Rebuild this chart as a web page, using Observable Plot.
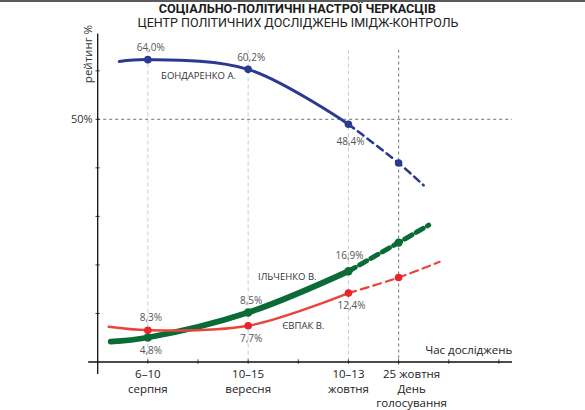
<!DOCTYPE html>
<html>
<head>
<meta charset="utf-8">
<script src="https://cdn.jsdelivr.net/npm/d3@7"></script>
<script src="https://cdn.jsdelivr.net/npm/@observablehq/plot@0.6"></script>
<style>
  html, body { margin: 0; padding: 0; background: #fff; }
  #wrap { position: relative; width: 585px; height: 410px; overflow: hidden; border-top: 2px solid #5a5a5a; box-sizing: border-box; }
  .hd { position: absolute; left: 0; width: 585px; text-align: center; color: #1a1a1a; font-family: Roboto, sans-serif; white-space: nowrap; padding-left: 10px; box-sizing: border-box; }
  .hd span { display: inline-block; transform-origin: center; }
  #title { top: -0.5px; font-weight: 700; font-size: 13px; line-height: 13px; }
  #subtitle { top: 15.2px; font-weight: 400; font-size: 12.5px; line-height: 12.5px; color: #222; }
  #ylabel { position: absolute; left: 87px; top: 52px; width: 0; height: 0; }
  #ylabel span { position: absolute; transform: translate(-50%, -50%) rotate(-90deg); font: 11.5px "Open Sans", sans-serif; color: #333; white-space: nowrap; }
  #chart { position: absolute; left: 0; top: -2px; }
</style>
</head>
<body>
<div id="wrap">
  <div id="title" class="hd"><span>СОЦІАЛЬНО-ПОЛІТИЧНІ НАСТРОЇ ЧЕРКАСЦІВ</span></div>
  <div id="subtitle" class="hd"><span>ЦЕНТР ПОЛІТИЧНИХ ДОСЛІДЖЕНЬ ІМІДЖ-КОНТРОЛЬ</span></div>
  <div id="chart"></div>
  <div id="ylabel"><span>рейтинг %</span></div>
</div>
<script>
// ---- data ----
const periods = ["6–10\nсерпня", "10–15\nвересня", "10–13\nжовтня", "25 жовтня\nДень\nголосування"];
const periodIndex = [1, 3, 5, 6];           // position of each survey on the time axis
const yTicks = [10, 20, 30, 40, 50, 60];
const xTicks = [1, 2, 3, 4, 5, 6, 7, 8];

// curves: lead-in, 4 survey points, forecast tail
const bondarenkoT = [0.43, 1, 3, 5, 6, 6.5];
const bondarenko  = [61.9, 62.3, 60.3, 49.0, 41.0, 36.4];
const bondarenkoLabels = ["64,0%", "60,2%", "48,4%"];

const ilchenkoT = [0.26, 1, 3, 5, 6, 6.6];
const ilchenko  = [4.2, 5.05, 10.2, 18.7, 24.6, 28.2];
const ilchenkoLabels = ["4,8%", "8,5%", "16,9%"];

const yevpakT = [0.22, 1, 3, 5, 6, 6.82];
const yevpak  = [7.25, 6.55, 7.46, 14.2, 17.4, 20.65];
const yevpakLabels = ["8,3%", "7,7%", "12,4%"];

const names = ["БОНДАРЕНКО А.", "ІЛЬЧЕНКО В.", "ЄВПАК В."];
const colors = ["#2b3990", "#0a6b37", "#e8443a"];

// ---- build tables ----
const series = [
  {name: names[0], t: bondarenkoT, v: bondarenko, labels: bondarenkoLabels, color: colors[0]},
  {name: names[1], t: ilchenkoT, v: ilchenko, labels: ilchenkoLabels, color: colors[1]},
  {name: names[2], t: yevpakT, v: yevpak, labels: yevpakLabels, color: colors[2]}
];
const pts = s => s.t.map((t, i) => ({t, v: s.v[i], name: s.name}));
const solid = s => pts(s).slice(0, 4);
const dashed = s => pts(s).slice(3);
const dots = s => pts(s).slice(1, 5);
const lab = (s, i) => ({t: s.t[i + 1], v: s.v[i + 1], text: s.labels[i]});

const font = "'Open Sans', sans-serif";
const B = series[0], G = series[1], R = series[2];
const valueStyle = {x: "t", y: "v", text: "text", fontSize: 10, fill: "#555"};
const fmtPeriod = d => periods[periodIndex.indexOf(d)];

const chart = Plot.plot({
  width: 585, height: 410,
  marginLeft: 97.2, marginRight: 86.6, marginTop: 70.3, marginBottom: 48.5,
  x: {domain: [0, 8]},
  y: {domain: [0, 60]},
  style: {fontFamily: font, background: "transparent", overflow: "visible"},
  marks: [
    // guides
    Plot.ruleX(periodIndex.slice(0, 3), {y1: 0, y2: 64.2, stroke: "#c4c4c4", strokeWidth: 0.9, strokeDasharray: "4,3"}),
    Plot.ruleX(periodIndex.slice(3), {y1: -0.6, y2: 64.2, stroke: "#8c8c8c", strokeWidth: 1.2, strokeDasharray: "3,3"}),
    Plot.ruleY([50], {x1: 0, x2: 8.27, stroke: "#8c8c8c", strokeWidth: 1.2, strokeDasharray: "3,3"}),
    // axes
    Plot.ruleY([0], {x1: -0.18, x2: 8.27, stroke: "#111", strokeWidth: 1.3}),
    Plot.ruleX([0], {y1: -2.6, y2: 67.6, stroke: "#111", strokeWidth: 1.3}),
    Plot.ruleX(xTicks, {y1: -0.45, y2: 0.45, stroke: "#111", strokeWidth: 0.8}),
    Plot.ruleY(yTicks, {x1: -0.035, x2: 0.05, stroke: "#111", strokeWidth: 0.8}),
    Plot.axisY({ticks: [50], tickSize: 0, tickPadding: 5, tickFormat: d => `${d}%`, fontSize: 11, fill: "#333", label: null}),
    Plot.axisX({ticks: periodIndex.slice(0, 3), tickSize: 0, tickPadding: 6, tickFormat: fmtPeriod, fontSize: 11.5, fill: "#222", lineHeight: 1.25, label: null}),
    Plot.axisX({ticks: periodIndex.slice(3), tickSize: 0, tickPadding: 6, dx: 13, tickFormat: fmtPeriod, fontSize: 11.5, fill: "#222", lineHeight: 1.25, label: null}),
    Plot.text(["Час досліджень"], {frameAnchor: "bottom-right", dx: 13.3, dy: -8, fontSize: 11.5, fill: "#222", textAnchor: "end"}),
    // lines
    ...series.map((s, k) => Plot.line(solid(s), {x: "t", y: "v", stroke: s.color, strokeWidth: [3, 5.8, 2.4][k], curve: "catmull-rom"})),
    ...series.map((s, k) => Plot.line(dashed(s), {x: "t", y: "v", stroke: s.color, strokeWidth: [2.6, 5, 2.2][k], strokeDasharray: ["7,5", "8,5", "8,5"][k], curve: "catmull-rom"})),
    ...series.map((s, k) => Plot.dot(dots(s), {x: "t", y: "v", fill: [s.color, s.color, "#e8242c"][k], r: [3.8, 4.2, 3.8][k]})),
    // value labels
    Plot.text([lab(B, 0), lab(B, 1), lab(G, 1), lab(R, 0)], {...valueStyle, dx: 3, dy: -12}),
    Plot.text([lab(G, 2)], {...valueStyle, dx: 1, dy: -15}),
    Plot.text([lab(B, 2)], {...valueStyle, dx: 2, dy: 18}),
    Plot.text([lab(G, 0), lab(R, 1), lab(R, 2)], {...valueStyle, dx: 3, dy: 13}),
    // series names
    Plot.text([names[0]], {x: 2.01, y: 58.9, fontSize: 9.5, fill: "#333"}),
    Plot.text([names[1]], {x: 3.78, y: 17.6, fontSize: 9.5, fill: "#333"}),
    Plot.text([names[2]], {x: 4.1, y: 7.5, fontSize: 9.5, fill: "#333"})
  ]
});
document.getElementById("chart").appendChild(chart);

// fit heading widths to the reference
const fit = (id, w) => { const s = document.querySelector(`#${id} span`); const cw = s.getBoundingClientRect().width; s.style.transform = `scaleX(${w / cw})`; };
fit("title", 277);
fit("subtitle", 321);
</script>
</body>
</html>
